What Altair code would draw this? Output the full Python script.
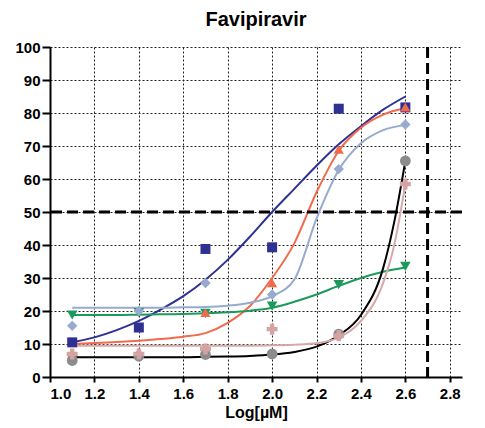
import altair as alt
import pandas as pd

# Measured responses (% inhibition) at each log concentration
log_conc = [1.1, 1.4, 1.7, 2.0, 2.3, 2.6]

series_names = ["A", "B", "C", "D", "E", "F"]
point_values = {
    "A": [10.5, 15.0, 38.8, 39.3, 81.3, 81.7],   # squares
    "B": [7.0, 7.5, 19.5, 28.5, 69.0, 81.8],     # triangles up
    "C": [15.5, 20.0, 28.5, 25.0, 63.0, 76.5],   # diamonds
    "D": [18.8, 19.5, 19.3, 21.5, 28.0, 33.5],   # triangles down
    "E": [5.0, 6.3, 6.8, 7.0, 13.0, 65.5],       # circles
    "F": [7.0, 7.0, 8.5, 14.5, 12.5, 58.5],      # plus
}

# Fitted dose-response curves, sampled along the x axis
curve_x = [1.1, 1.2, 1.3, 1.4, 1.5, 1.6, 1.7, 1.8, 1.9, 2.0, 2.1, 2.2, 2.3, 2.4, 2.5, 2.6]
curve_values = {
    "A": [10.5, 12.0, 14.2, 17.0, 20.5, 24.5, 29.5, 35.5, 42.5, 50.0, 57.0, 64.0, 70.5, 76.0, 81.0, 85.0],
    "B": [10.0, 10.3, 10.6, 11.0, 11.5, 12.2, 13.3, 16.4, 21.5, 30.0, 40.5, 56.0, 68.5, 75.5, 79.5, 81.5],
    "C": [21.0, 21.0, 21.0, 21.0, 21.0, 21.1, 21.2, 21.6, 22.5, 24.5, 29.5, 48.0, 62.7, 70.8, 74.8, 76.4],
    "D": [18.8, 18.8, 18.8, 18.9, 19.0, 19.1, 19.3, 19.6, 20.1, 21.0, 22.8, 25.0, 27.6, 30.0, 31.9, 33.2],
    "E": [6.0, 6.0, 6.0, 6.0, 6.0, 6.0, 6.1, 6.2, 6.4, 6.8, 7.6, 9.2, 12.6, 18.8, 33.0, 65.5],
    "F": [9.5, 9.5, 9.5, 9.5, 9.5, 9.5, 9.5, 9.5, 9.5, 9.6, 9.8, 10.2, 12.0, 17.0, 28.5, 58.5],
}
# extra samples where the steep curves bend sharply
steep_x = [2.55]
steep_values = {"E": [47.0], "F": [40.0]}

x_ticks = [1.0, 1.2, 1.4, 1.6, 1.8, 2.0, 2.2, 2.4, 2.6, 2.8]
y_ticks = [0, 10, 20, 30, 40, 50, 60, 70, 80, 90, 100]
half_max = [50]
x_cutoff = [2.7]

marker_colors = ["#2E3192", "#F26A4B", "#99AACF", "#1C9A5C", "#8C8C8C", "#D4A3A3"]
line_colors = ["#2E3192", "#F26A4B", "#99AACF", "#1C9A5C", "#000000", "#D6AAAA"]
marker_shapes = ["square", "triangle-up", "diamond", "triangle-down", "circle", "cross"]
marker_sizes = [100, 120, 170, 120, 100, 120]
draw_order = ["D", "C", "A", "B", "E", "F"]

points = pd.DataFrame(
    [
        {"series": s, "x": x, "y": y, "order": draw_order.index(s)}
        for s in series_names
        for x, y in zip(log_conc, point_values[s])
    ]
)
curves = pd.DataFrame(
    [{"series": s, "x": x, "y": y} for s in series_names for x, y in zip(curve_x, curve_values[s])]
    + [{"series": s, "x": x, "y": y} for s in steep_values for x, y in zip(steep_x, steep_values[s])]
).sort_values(["series", "x"])

x_scale = alt.Scale(domain=[1.0, 2.855], nice=False, zero=False)
y_scale = alt.Scale(domain=[0, 100], nice=False)

x_axis = alt.Axis(
    values=x_ticks, format=".1f", tickSize=5, labelPadding=4,
    title="Log[µM]", titleFontSize=16, titlePadding=3,
    gridDash=[2, 2],
)
y_axis = alt.Axis(values=y_ticks, tickSize=8, labelPadding=2, title=None, gridDash=[2, 2],
                  labelOverlap=False)

X = alt.X("x:Q", scale=x_scale, axis=x_axis)
Y = alt.Y("y:Q", scale=y_scale, axis=y_axis)

lines = (
    alt.Chart(curves)
    .mark_line(interpolate="monotone", strokeWidth=2)
    .encode(
        x=X,
        y=Y,
        color=alt.Color("series:N", scale=alt.Scale(domain=series_names, range=line_colors), legend=None),
        detail="series:N",
    )
)

markers = (
    alt.Chart(points)
    .mark_point(filled=True, opacity=1)
    .encode(
        x=X,
        y=Y,
        color=alt.Color("series:N", scale=alt.Scale(domain=series_names, range=marker_colors), legend=None),
        shape=alt.Shape("series:N", scale=alt.Scale(domain=series_names, range=marker_shapes), legend=None),
        size=alt.Size("series:N", scale=alt.Scale(domain=series_names, range=marker_sizes), legend=None),
        order=alt.Order("order:Q"),
    )
)

h_rule = (
    alt.Chart(pd.DataFrame({"y": half_max}))
    .mark_rule(color="black", strokeWidth=3, strokeDash=[11, 5])
    .encode(y=Y)
)
v_rule = (
    alt.Chart(pd.DataFrame({"x": x_cutoff}))
    .mark_rule(color="black", strokeWidth=3, strokeDash=[11, 5])
    .encode(x=X)
)

chart = (
    alt.layer(lines, h_rule, v_rule, markers)
    .resolve_scale(color="independent", shape="independent")
    .properties(
        width=412,
        height=330,
        title=alt.TitleParams(
            "Favipiravir", fontSize=20, font="Liberation Sans", fontWeight="bold",
            color="black", anchor="middle", offset=10,
        ),
        autosize=alt.AutoSizeParams(type="none"),
        padding={"left": 50, "top": 47, "right": 23, "bottom": 51},
    )
    .configure_view(stroke=None)
    .configure_axis(
        domainColor="black", domainWidth=2, tickColor="black", tickWidth=2,
        labelFont="Liberation Sans", labelFontWeight="bold", labelFontSize=15, labelColor="black",
        titleFont="Liberation Sans", titleFontWeight="bold", titleColor="black",
        gridColor="#222222", gridWidth=1, gridOpacity=1,
    )
)

chart.save("out.html", embed_options={"renderer": "svg", "actions": False})
